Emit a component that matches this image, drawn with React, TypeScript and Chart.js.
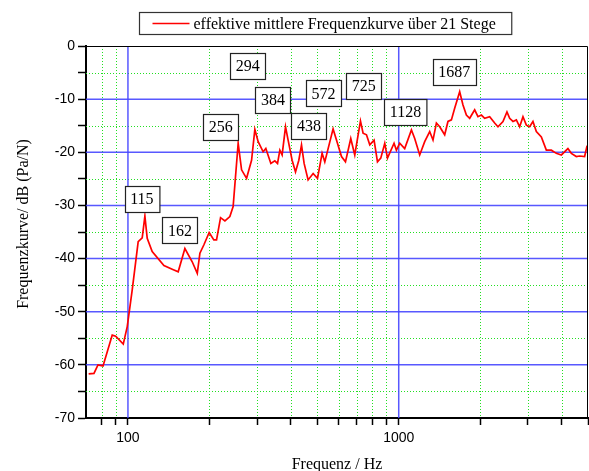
import React, { useEffect, useRef } from "react";
import { Chart, registerables } from "chart.js";

Chart.register(...registerables);

const FREQ_HZ = [
  71.6, 74.9, 77.5, 80.9, 87.5, 90.1, 96.1, 99.4, 103.7, 109.1, 112.9, 115.5, 117.8, 122.9, 135.8, 145.7,
  153.3, 162.3, 172.7, 180.3, 184.4, 190.8, 199.5, 207.6, 212.4, 219.8, 228.1, 237.9, 244.6, 255.3, 262.8,
  274.2, 286.1, 294.2, 302.6, 315.7, 323.0, 337.1, 348.7, 356.8, 363.9, 371.0, 381.9, 390.4, 403.9, 415.7,
  427.6, 437.5, 447.3, 462.7, 482.9, 501.2, 521.2, 533.3, 572.2, 589.0, 614.6, 635.8, 665.1, 688.1, 722.3,
  738.5, 760.1, 781.7, 810.9, 834.6, 858.4, 888.0, 908.7, 961.0, 980.6, 1008.6, 1052.0, 1114.0, 1145.5,
  1195.3, 1247.1, 1301.3, 1338.4, 1377.5, 1416.7, 1478.1, 1520.2, 1564.9, 1609.2, 1679.2, 1727.0, 1777.5,
  1828.1, 1907.4, 1961.7, 2019.5, 2076.5, 2166.9, 2261.0, 2325.4, 2426.6, 2510.1, 2568.6, 2641.8, 2719.0,
  2796.5, 2876.1, 2960.1, 3044.4, 3131.1, 3222.5, 3362.6, 3508.4, 3660.8, 3819.5, 3985.6, 4215.3, 4339.4,
  4527.6, 4656.6, 4858.6, 4954.3, 5000,
];
const LEVEL_DB = [
  -61.7, -61.6, -60.0, -60.2, -54.4, -54.6, -56.1, -52.8, -45.9, -36.8, -36.1, -32.0, -36.2, -38.7, -41.3, -42.0,
  -42.5, -38.1, -40.6, -42.8, -39.0, -37.4, -35.1, -36.5, -36.5, -32.3, -32.9, -32.1, -30.2, -18.3, -23.3,
  -24.9, -21.5, -15.7, -18.0, -19.9, -19.3, -22.1, -21.6, -22.1, -19.6, -20.5, -15.2, -17.7, -21.5, -23.7,
  -21.5, -18.6, -22.1, -25.2, -24.0, -24.9, -20.2, -21.8, -15.6, -17.7, -20.8, -21.8, -17.4, -20.5, -14.1,
  -16.4, -16.7, -18.6, -17.7, -21.8, -21.1, -18.3, -21.1, -18.3, -19.6, -18.3, -19.3, -15.8, -17.4,
  -20.5, -18.0, -16.1, -17.7, -14.5, -15.2, -16.7, -14.2, -13.9, -11.7, -8.6, -11.1, -13.0,
  -13.6, -12.0, -13.3, -13.0, -13.6, -13.3, -14.5, -15.2, -14.2, -12.4, -13.6, -14.2, -13.9,
  -15.2, -13.3, -14.9, -15.2, -14.2, -16.1, -17.1, -19.6, -19.6, -20.2, -20.5, -19.3, -20.2,
  -20.8, -20.7, -20.8, -18.9, -18.7,
];

const PEAK_LABELS = ["115", "162", "256", "294", "384", "438", "572", "725", "1128", "1687"];
const PEAK_LABEL_HZ = [112.6, 155.6, 220, 277, 343, 466, 528, 743, 1059, 1603];
const PEAK_LABEL_DB = [-28.7, -34.7, -15.2, -3.7, -10.1, -15.1, -8.9, -7.5, -12.4, -4.9];

const X_TICKS = [80, 90, 100, 200, 300, 400, 500, 600, 700, 800, 900, 1000, 2000, 3000, 4000, 5000];
const X_LABELED = [100, 1000];
const X_MIN = 70;
const X_MAX = 5000;
const Y_MIN = -70;
const Y_MAX = 0;

const LEGEND_TEXT = "effektive mittlere Frequenzkurve über 21 Stege";
const X_TITLE = "Frequenz / Hz";
const Y_TITLE = "Frequenzkurve/ dB (Pa/N)";

const SERIF = "'Liberation Serif', 'Times New Roman', serif";
const SANS = "'Liberation Sans', Arial, sans-serif";

const decorPlugin = {
  id: "decor",
  beforeDatasetsDraw(chart: any) {
    const { ctx, chartArea: a, scales } = chart;
    const xs = scales.x;
    const ys = scales.y;
    ctx.save();
    ctx.strokeStyle = "#22e022";
    ctx.lineWidth = 1;
    ctx.setLineDash([1, 2]);
    X_TICKS.forEach((v) => {
      if (X_LABELED.includes(v) || v >= X_MAX) return;
      const px = Math.round(xs.getPixelForValue(v)) + 0.5;
      ctx.beginPath();
      ctx.moveTo(px, a.top);
      ctx.lineTo(px, a.bottom);
      ctx.stroke();
    });
    for (let v = Y_MIN + 5; v < Y_MAX; v += 10) {
      const py = Math.round(ys.getPixelForValue(v)) + 0.5;
      ctx.beginPath();
      ctx.moveTo(a.left, py);
      ctx.lineTo(a.right, py);
      ctx.stroke();
    }
    ctx.setLineDash([]);
    ctx.strokeStyle = "rgba(70,70,255,0.9)";
    ctx.lineWidth = 1.5;
    X_LABELED.forEach((v) => {
      const px = xs.getPixelForValue(v);
      ctx.beginPath();
      ctx.moveTo(px, a.top);
      ctx.lineTo(px, a.bottom);
      ctx.stroke();
    });
    for (let v = Y_MIN + 10; v < Y_MAX; v += 10) {
      const py = ys.getPixelForValue(v);
      ctx.beginPath();
      ctx.moveTo(a.left, py);
      ctx.lineTo(a.right, py);
      ctx.stroke();
    }
    ctx.restore();
  },
  afterDatasetsDraw(chart: any) {
    const { ctx, chartArea: a, scales } = chart;
    const xs = scales.x;
    const ys = scales.y;
    ctx.save();
    ctx.strokeStyle = "#000";
    ctx.lineWidth = 1;
    ctx.beginPath();
    ctx.moveTo(a.left, a.top + 0.5);
    ctx.lineTo(a.right - 0.5, a.top + 0.5);
    ctx.lineTo(a.right - 0.5, a.bottom);
    ctx.stroke();

    ctx.font = `16px ${SERIF}`;
    ctx.textAlign = "center";
    ctx.textBaseline = "middle";
    PEAK_LABELS.forEach((t, i) => {
      const cx = xs.getPixelForValue(PEAK_LABEL_HZ[i]);
      const cy = ys.getPixelForValue(PEAK_LABEL_DB[i]);
      const w = ctx.measureText(t).width + 11;
      const h = 26;
      const x0 = Math.round(cx - w / 2) + 0.5;
      const y0 = Math.round(cy - h / 2) + 0.5;
      ctx.fillStyle = "#fff";
      ctx.fillRect(x0, y0, w, h);
      ctx.strokeStyle = "#222";
      ctx.lineWidth = 1.2;
      ctx.strokeRect(x0, y0, w, h);
      ctx.fillStyle = "#000";
      ctx.fillText(t, cx, cy + 1);
    });

    ctx.font = `16px ${SERIF}`;
    ctx.textAlign = "left";
    const tw = ctx.measureText(LEGEND_TEXT).width;
    const lx = 139.5;
    const ly = 12.5;
    const lw = 13 + 37 + 4 + tw + 16;
    const lh = 22;
    ctx.fillStyle = "#fff";
    ctx.fillRect(lx, ly, lw, lh);
    ctx.strokeStyle = "#333";
    ctx.lineWidth = 1.2;
    ctx.strokeRect(lx, ly, lw, lh);
    ctx.strokeStyle = "#ff0000";
    ctx.lineWidth = 1.5;
    ctx.beginPath();
    ctx.moveTo(lx + 13, ly + 11);
    ctx.lineTo(lx + 50, ly + 11);
    ctx.stroke();
    ctx.fillStyle = "#000";
    ctx.fillText(LEGEND_TEXT, lx + 54, ly + 12);

    ctx.font = `16px ${SERIF}`;
    ctx.textAlign = "center";
    ctx.textBaseline = "alphabetic";
    ctx.fillText(X_TITLE, (a.left + a.right) / 2, 469);
    ctx.translate(28, 224);
    ctx.rotate(-Math.PI / 2);
    ctx.fillText(Y_TITLE, 0, 0);
    ctx.restore();
  },
};

export default function App() {
  const ref = useRef<HTMLCanvasElement | null>(null);
  useEffect(() => {
    document.body.style.margin = "0";
    if (!ref.current) return;
    const points = FREQ_HZ.map((f, i) => ({ x: f, y: LEVEL_DB[i] }));
    const chart = new Chart(ref.current, {
      type: "line",
      data: {
        datasets: [
          {
            label: LEGEND_TEXT,
            data: points,
            borderColor: "#ff0000",
            borderWidth: 1.7,
            pointRadius: 0,
            tension: 0,
            fill: false,
          },
        ],
      },
      options: {
        animation: false,
        responsive: false,
        devicePixelRatio: 1,
        layout: { padding: { top: 46, right: 1, left: 0, bottom: 0 } },
        plugins: { legend: { display: false }, tooltip: { enabled: false }, title: { display: false } },
        scales: {
          x: {
            type: "logarithmic",
            min: X_MIN,
            max: X_MAX,
            afterBuildTicks: (scale: any) => {
              scale.ticks = X_TICKS.map((v) => ({ value: v, major: X_LABELED.includes(v) }));
            },
            afterFit: (scale: any) => {
              scale.height = 53;
              scale.paddingLeft = 0;
              scale.paddingRight = 0;
            },
            ticks: {
              autoSkip: false,
              maxRotation: 0,
              padding: 5,
              color: "#000",
              font: { family: SANS, size: 14 },
              callback: (v: any) => (X_LABELED.includes(Number(v)) ? String(v) : ""),
            },
            grid: { drawOnChartArea: false, drawTicks: true, tickLength: 7, tickColor: "#000", tickWidth: 1.5 },
            border: { color: "#000", width: 2 },
          },
          y: {
            type: "linear",
            min: Y_MIN,
            max: Y_MAX,
            afterFit: (scale: any) => {
              scale.width = 86;
              scale.paddingTop = 0;
              scale.paddingBottom = 0;
            },
            ticks: {
              stepSize: 5,
              autoSkip: false,
              padding: 3,
              color: "#000",
              font: { family: SANS, size: 14 },
              callback: (v: any) => (Number(v) % 10 === 0 ? String(v) : ""),
            },
            grid: { drawOnChartArea: false, drawTicks: true, tickLength: 8, tickColor: "#000", tickWidth: 1.5 },
            border: { color: "#000", width: 2 },
          },
        },
      },
      plugins: [decorPlugin],
    });
    return () => chart.destroy();
  }, []);
  return (
    <div style={{ width: 589, height: 471 }}>
      <canvas ref={ref} width={589} height={471} style={{ display: "block" }} />
    </div>
  );
}
